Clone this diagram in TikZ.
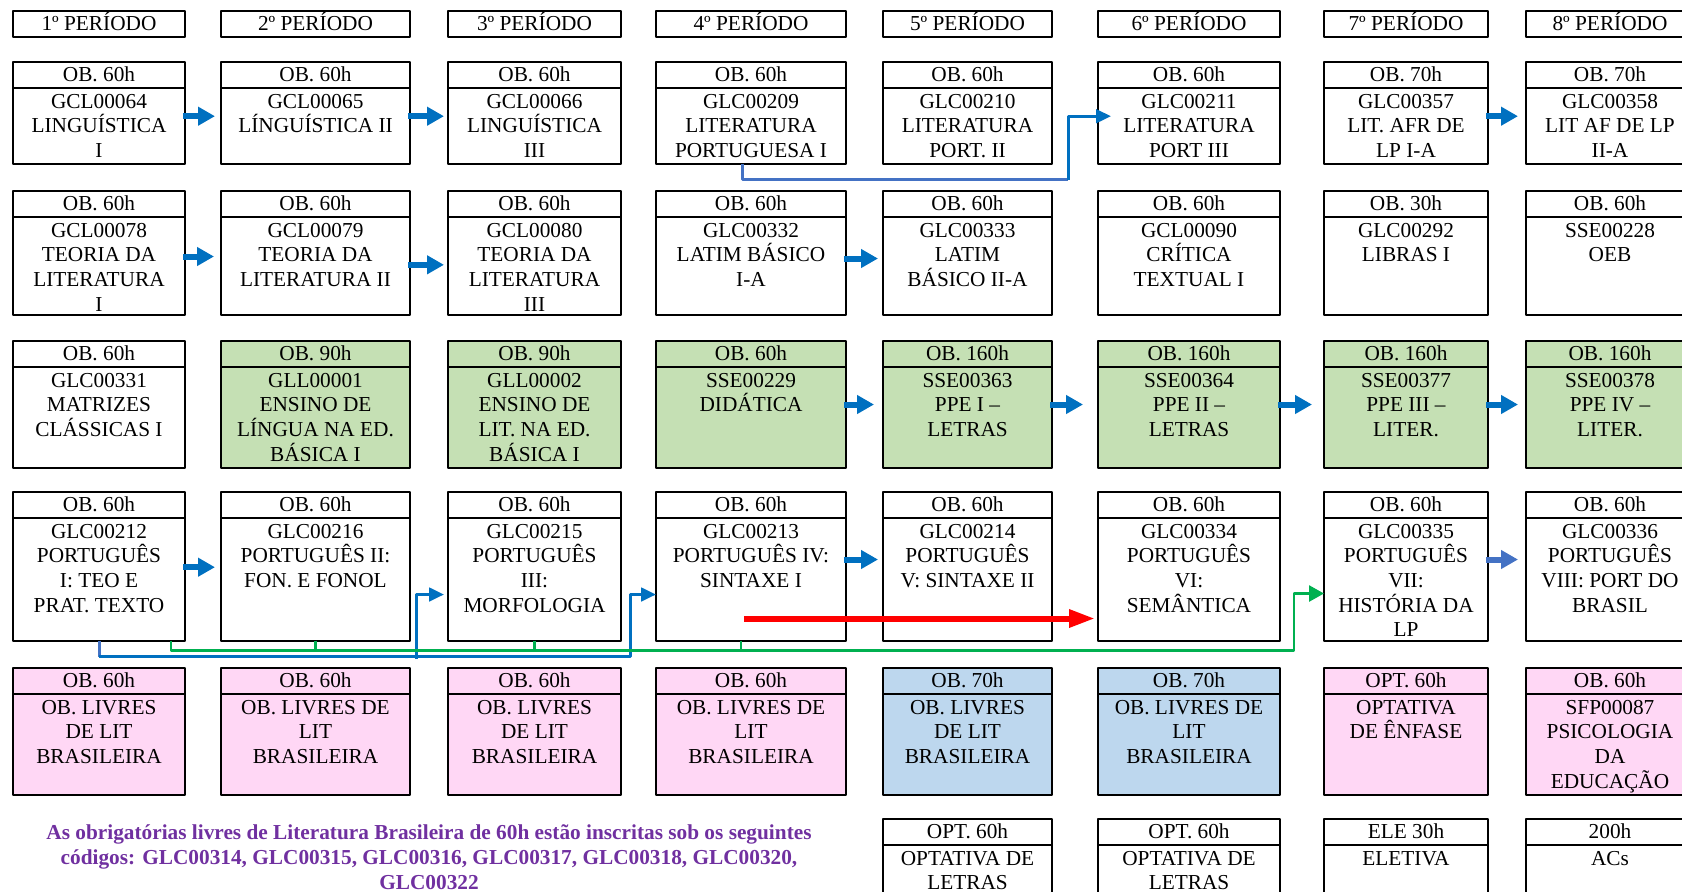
\documentclass[tikz,border=0pt]{standalone}
\usepackage{fontspec}
\setmainfont{Liberation Serif}
\usetikzlibrary{arrows.meta}

\definecolor{azul}{HTML}{0070C0}
\definecolor{azulclaro}{HTML}{4472C4}
\definecolor{verde}{HTML}{00B050}
\definecolor{vermelho}{HTML}{FF0000}
\definecolor{roxo}{HTML}{7030A0}
\definecolor{fverde}{HTML}{C5E0B4}
\definecolor{frosa}{HTML}{FFD7F5}
\definecolor{fazul}{HTML}{BDD7EE}

\newcommand\fonte{\fontsize{10.65pt}{12.3pt}\selectfont}
\def\colx{{13,221,448,656,883,1098,1324,1526}}
\def\colw{{172,189,173,190,169,182,164,168}}

% #1 linha, #2 coluna, #3 topo, #4 altura do corpo, #5 cor, #6 horas, #7 texto
\newcommand\disc[7]{%
  \pgfmathsetmacro\dx{\colx[#2-1]}%
  \pgfmathsetmacro\dw{\colw[#2-1]}%
  \node[cab, fill=#5, minimum width=\dw*0.5pt] (#1#2h) at (\dx+\dw/2,#3+12.75) {#6};
  \node[corpo, fill=#5] (#1#2) at (#1#2h.south)
    {\parbox[c][\dimexpr#4pt/2\relax][t]{\dimexpr\dw pt/2\relax}{\centering\rule{0pt}{10.4pt}#7}};
}

\begin{document}
\begin{tikzpicture}[x=0.5pt, y=-0.5pt, font=\fonte, line join=round,
    per/.style={draw, line width=1pt, inner sep=0pt, outer sep=0pt, minimum height=13.25pt, text height=7pt, text depth=0pt},
    cab/.style={draw, line width=1pt, inner sep=0pt, outer sep=0pt, minimum height=12.75pt, text height=7pt, text depth=0pt},
    corpo/.style={draw, line width=1pt, inner sep=0pt, outer sep=0pt, anchor=north},
    seta/.style={draw=azul, line width=3pt, -{Triangle[length=8.5pt,width=9pt]}, shorten <=-1pt, shorten >=3pt},
    liga/.style={draw=azul, line width=1.5pt, -{Triangle[length=7.4pt,width=6.7pt]}},
    linha/.style={draw=azulclaro, line width=1.5pt},
    setaverde/.style={draw=verde, line width=1.35pt, -{Triangle[length=7.5pt,width=8pt]}},
    traco/.style={draw=verde, line width=1.35pt},
    setavermelha/.style={draw=vermelho, line width=3pt, -{Triangle[length=13pt,width=8.5pt]}, shorten >=1.5pt},
    nota/.style={text=roxo, font=\fontsize{10.65pt}{12.5pt}\selectfont\bfseries, align=center}]
\useasboundingbox (0,0) rectangle (1682,891);

% periodos
\foreach \cc in {1,...,8}{
  \pgfmathsetmacro\dx{\colx[\cc-1]}
  \pgfmathsetmacro\dw{\colw[\cc-1]}
  \node[per, minimum width=\dw*0.5pt] (p\cc) at (\dx+\dw/2,23.75) {\cc º PERÍODO};
}

% disciplinas
\foreach \cc/\hr/\tx in {1/OB. 60h/GCL00064\\LINGUÍSTICA\\I,
    2/OB. 60h/GCL00065\\LÍNGUÍSTICA II,
    3/OB. 60h/GCL00066\\LINGUÍSTICA\\III,
    4/OB. 60h/GLC00209\\LITERATURA\\PORTUGUESA I,
    5/OB. 60h/GLC00210\\LITERATURA\\PORT. II,
    6/OB. 60h/GLC00211\\LITERATURA\\PORT III,
    7/OB. 70h/GLC00357\\LIT. AFR DE\\LP I-A,
    8/OB. 70h/GLC00358\\LIT AF DE LP\\II-A}
  \disc{a}{\cc}{62}{76}{white}{\hr}{\tx};
\foreach \cc/\hr/\tx in {1/OB. 60h/GCL00078\\TEORIA DA\\LITERATURA\\I,
    2/OB. 60h/GCL00079\\TEORIA DA\\LITERATURA II,
    3/OB. 60h/GCL00080\\TEORIA DA\\LITERATURA\\III,
    4/OB. 60h/GLC00332\\LATIM BÁSICO\\I-A,
    5/OB. 60h/GLC00333\\LATIM\\BÁSICO II-A,
    6/OB. 60h/GCL00090\\CRÍTICA\\TEXTUAL I,
    7/OB. 30h/GLC00292\\LIBRAS I,
    8/OB. 60h/SSE00228\\OEB}
  \disc{b}{\cc}{191}{98}{white}{\hr}{\tx};
\foreach \cc/\cor/\hr/\tx in {1/white/OB. 60h/GLC00331\\MATRIZES\\CLÁSSICAS I,
    2/fverde/OB. 90h/GLL00001\\ENSINO DE\\LÍNGUA NA ED.\\BÁSICA I,
    3/fverde/OB. 90h/GLL00002\\ENSINO DE\\LIT. NA ED.\\BÁSICA I,
    4/fverde/OB. 60h/SSE00229\\DIDÁTICA,
    5/fverde/OB. 160h/SSE00363\\PPE I –\\LETRAS,
    6/fverde/OB. 160h/SSE00364\\PPE II –\\LETRAS,
    7/fverde/OB. 160h/SSE00377\\PPE III –\\LITER.,
    8/fverde/OB. 160h/SSE00378\\PPE IV –\\LITER.}
  \disc{c}{\cc}{341}{101}{\cor}{\hr}{\tx};
\foreach \cc/\hr/\tx in {1/OB. 60h/GLC00212\\PORTUGUÊS\\I: TEO E\\PRAT. TEXTO,
    2/OB. 60h/GLC00216\\PORTUGUÊS II:\\FON. E FONOL,
    3/OB. 60h/GLC00215\\PORTUGUÊS\\III:\\MORFOLOGIA,
    4/OB. 60h/GLC00213\\PORTUGUÊS IV:\\SINTAXE I,
    5/OB. 60h/GLC00214\\PORTUGUÊS\\V: SINTAXE II,
    6/OB. 60h/GLC00334\\PORTUGUÊS\\VI:\\SEMÂNTICA,
    7/OB. 60h/GLC00335\\PORTUGUÊS\\VII:\\HISTÓRIA DA\\LP,
    8/OB. 60h/GLC00336\\PORTUGUÊS\\VIII: PORT DO\\BRASIL}
  \disc{d}{\cc}{492}{123}{white}{\hr}{\tx};
\foreach \cc/\cor/\hr/\tx in {1/frosa/OB. 60h/OB. LIVRES\\DE LIT\\BRASILEIRA,
    2/frosa/OB. 60h/OB. LIVRES DE\\LIT\\BRASILEIRA,
    3/frosa/OB. 60h/OB. LIVRES\\DE LIT\\BRASILEIRA,
    4/frosa/OB. 60h/OB. LIVRES DE\\LIT\\BRASILEIRA,
    5/fazul/OB. 70h/OB. LIVRES\\DE LIT\\BRASILEIRA,
    6/fazul/OB. 70h/OB. LIVRES DE\\LIT\\BRASILEIRA,
    7/frosa/OPT. 60h/OPTATIVA\\DE ÊNFASE,
    8/frosa/OB. 60h/SFP00087\\PSICOLOGIA\\DA\\EDUCAÇÃO}
  \disc{e}{\cc}{668}{101}{\cor}{\hr}{\tx};
\foreach \cc/\hr/\tx in {5/OPT. 60h/OPTATIVA DE\\LETRAS,
    6/OPT. 60h/OPTATIVA DE\\LETRAS,
    7/ELE 30h/ELETIVA,
    8/200h/ACs}
  \disc{f}{\cc}{819}{101}{white}{\hr}{\tx};

% pre-requisitos
\foreach \a/\b/\s/\e in {a1/a2/4.65/3, a2/a3/4.65/2, a7/a8/4.65/4, b1/b2/4.5/3.5, b2/b3/0.35/2,
    b4/b5/3.5/2.5, c4/c5/6.25/4.5, c5/c6/6.25/7.5, c6/c7/6.25/6, c7/c8/6.25/4, d1/d2/5.9/3, d4/d5/9.75/2.5}
  \draw[seta, shorten >=\e pt] ([yshift=\s pt]\a.east) -- ([yshift=\s pt]\b.west);
\draw[seta, draw=azulclaro, shorten >=4pt] ([yshift=9.75pt]d7.east) -- ([yshift=9.75pt]d8.west);

\draw[linha] ([xshift=-4.5pt]a4.south) -- ++(0,16) -- ++(326,0) coordinate (canto);
\draw[liga, shorten >=-6.5pt] (canto) |- ([yshift=4.65pt]a6.west);

\draw[linha] (d1.south) -- ++(0,16) coordinate (baixo);
\draw[liga] (baixo) -| ([xshift=-13pt,yshift=-7.75pt]d4.west) -- ([yshift=-7.75pt]d4.west);
\draw[liga, shorten >=2pt] ([xshift=-16pt,yshift=-40pt]d3.west) |- ([yshift=-7.75pt]d3.west);

\draw[setaverde] ([xshift=36pt]d1.south) -- ++(0,10) -| ([xshift=-15pt,yshift=-7.25pt]d7.west) -- ([yshift=-7.25pt]d7.west);
\draw[traco] (d2.south) -- ++(0,10);
\draw[traco] (d3.south) -- ++(0,10);
\draw[traco] ([xshift=-5pt]d4.south) -- ++(0,10);

\draw[setavermelha] ([xshift=-3.5pt,yshift=-19.75pt]d4.center) -- ([yshift=-19.75pt]d6.west);

\node[nota] (obs) at (429,857) {As obrigatórias livres de Literatura Brasileira de 60h estão inscritas sob os seguintes\\códigos: GLC00314, GLC00315, GLC00316, GLC00317, GLC00318, GLC00320,\\GLC00322};
\end{tikzpicture}
\end{document}
